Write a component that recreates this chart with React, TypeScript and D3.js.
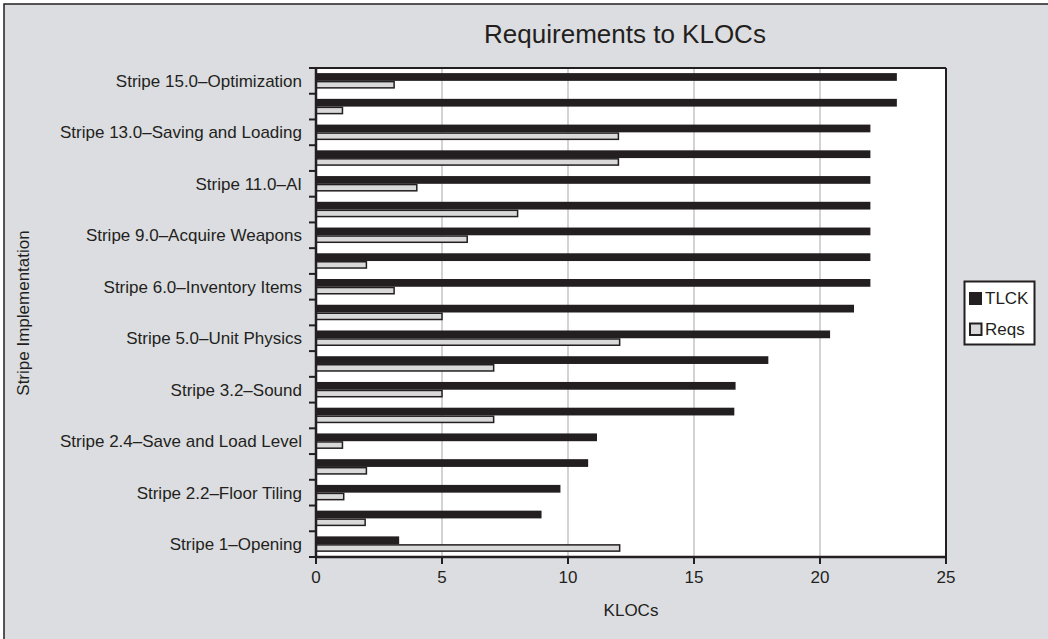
import React from 'react';
import * as d3 from 'd3';

// stripe labels, top to bottom (Excel only printed every other one)
const stripes = [
  'Stripe 15.0–Optimization', '',
  'Stripe 13.0–Saving and Loading', '',
  'Stripe 11.0–AI', '',
  'Stripe 9.0–Acquire Weapons', '',
  'Stripe 6.0–Inventory Items', '',
  'Stripe 5.0–Unit Physics', '',
  'Stripe 3.2–Sound', '',
  'Stripe 2.4–Save and Load Level', '',
  'Stripe 2.2–Floor Tiling', '',
  'Stripe 1–Opening',
];
const tlck = [23.05, 23.05, 22, 22, 22, 22, 22, 22, 22, 21.35, 20.4, 17.95, 16.65, 16.6, 11.15, 10.8, 9.7, 8.95, 3.3];
const reqs = [3.1, 1.05, 12, 12, 4, 8, 6, 2, 3.1, 5, 12.05, 7.05, 5, 7.05, 1.05, 2, 1.1, 1.95, 12.05];
const seriesNames = ['TLCK', 'Reqs'];
const xTicks = [0, 5, 10, 15, 20, 25];

const W = 1048;
const H = 639;
const margin = { top: 68, right: 102, bottom: 82, left: 316 };
const dark = '#231f20';
const bg = '#dcdde0';
const lightFill = '#d9d9d9';
const font = '"Liberation Sans", Arial, Helvetica, sans-serif';

const App: React.FC = () => {
  const x = d3.scaleLinear().domain([0, 25]).range([margin.left, W - margin.right]);
  const y = d3.scaleBand<number>()
    .domain(d3.range(stripes.length))
    .range([margin.top, H - margin.bottom]);
  const sub = d3.scaleBand<string>()
    .domain(seriesNames)
    .range([0, y.bandwidth()])
    .paddingOuter(0.66);

  const series = [tlck, reqs];
  const bottom = H - margin.bottom;
  const boundaries = [...d3.range(stripes.length).map(i => y(i) ?? 0), bottom];

  return (
    <svg width={W} height={H} style={{ position: 'absolute', left: 0, top: 0 }} fontFamily={font}>
      <rect x={0} y={0} width={W} height={H} fill="#fff" />
      <rect x={4} y={4} width={W + 20} height={H + 20} fill={bg} stroke={dark} strokeWidth={1.5} />

      <text x={625} y={43} textAnchor="middle" fontSize={26} fill={dark}>Requirements to KLOCs</text>

      {/* plot area */}
      <rect x={margin.left} y={margin.top} width={x(25) - x(0)} height={bottom - margin.top} fill="#fff" />
      {xTicks.slice(1, -1).map(t => (
        <line key={t} x1={x(t)} x2={x(t)} y1={margin.top} y2={bottom} stroke="#c4c4c4" strokeWidth={1.5} />
      ))}

      {series.map((vals, si) => (
        <g key={seriesNames[si]}>
          {vals.map((v, i) => {
            const y0 = (y(i) ?? 0) + (sub(seriesNames[si]) ?? 0);
            const h = sub.bandwidth();
            return si === 0 ? (
              <rect key={i} x={x(0)} y={y0} width={x(v) - x(0)} height={h} fill={dark} />
            ) : (
              <rect key={i} x={x(0)} y={y0 + 0.75} width={x(v) - x(0)} height={h - 1.5}
                fill={lightFill} stroke={dark} strokeWidth={1.5} />
            );
          })}
        </g>
      ))}

      {/* frame */}
      <line x1={margin.left} x2={x(25)} y1={margin.top} y2={margin.top} stroke={dark} strokeWidth={2} />
      <line x1={x(25)} x2={x(25)} y1={margin.top} y2={bottom} stroke={dark} strokeWidth={2} />
      <line x1={margin.left} x2={margin.left} y1={margin.top - 1} y2={bottom + 1} stroke={dark} strokeWidth={2.5} />
      <line x1={margin.left - 1} x2={x(25) + 1} y1={bottom} y2={bottom} stroke={dark} strokeWidth={2.5} />

      {/* y axis */}
      {boundaries.map((b, i) => (
        <line key={i} x1={margin.left - 7} x2={margin.left} y1={b} y2={b} stroke={dark} strokeWidth={2} />
      ))}
      {stripes.map((s, i) => s && (
        <text key={i} x={302} y={(y(i) ?? 0) + y.bandwidth() / 2} dy="0.35em" textAnchor="end" fontSize={17} fill={dark}>{s}</text>
      ))}

      {/* x axis */}
      {xTicks.map(t => (
        <g key={t}>
          <line x1={x(t)} x2={x(t)} y1={bottom} y2={bottom + 7} stroke={dark} strokeWidth={2} />
          <text x={x(t)} y={577} dy="0.35em" textAnchor="middle" fontSize={17} fill={dark}>{t}</text>
        </g>
      ))}

      <text x={631} y={610} dy="0.35em" textAnchor="middle" fontSize={17} fill={dark}>KLOCs</text>
      <text transform="translate(23,313) rotate(-90)" dy="0.35em" textAnchor="middle" fontSize={17} fill={dark}>Stripe Implementation</text>

      {/* legend */}
      <rect x={964.5} y={281.5} width={70} height={63} fill="#fff" stroke={dark} strokeWidth={2} />
      <rect x={969} y={292} width={13} height={13} fill={dark} />
      <text x={985} y={298.5} dy="0.35em" fontSize={17} fill={dark}>{seriesNames[0]}</text>
      <rect x={970} y={323.5} width={11.5} height={11.5} fill={lightFill} stroke={dark} strokeWidth={2} />
      <text x={985} y={329.5} dy="0.35em" fontSize={17} fill={dark}>{seriesNames[1]}</text>
    </svg>
  );
};

export default App;
